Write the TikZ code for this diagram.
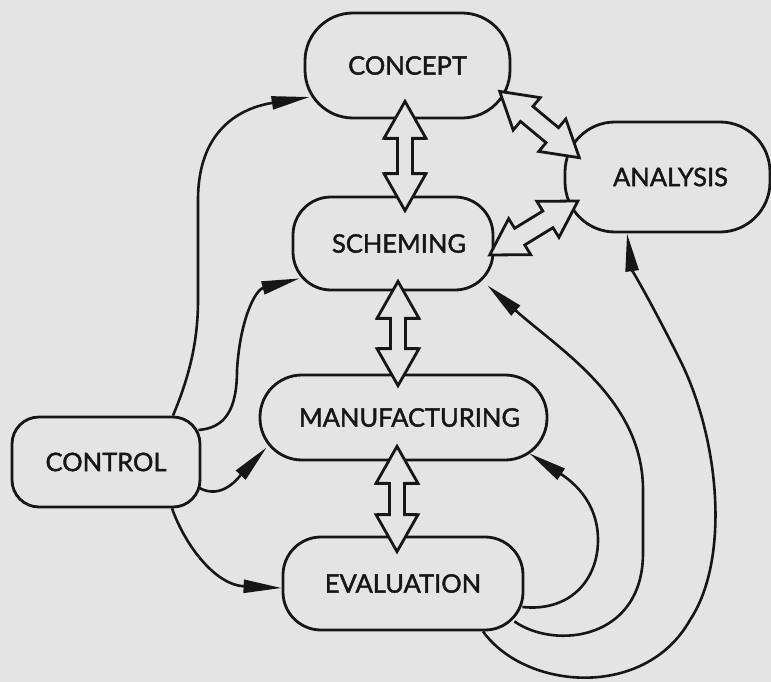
\documentclass[tikz,border=0pt]{standalone}
\usepackage{fontspec}
\setmainfont{Lato}
\newfontfamily\stagefont{Lato}[FakeBold=1.6]
\usetikzlibrary{arrows.meta,calc}
\definecolor{paper}{RGB}{228,228,228}
\definecolor{ink}{RGB}{22,22,22}

% hollow double-headed arrow between two points:
% #1 start, #2 end, #3 head side, #4 head angle, #5 shaft side, #6 shaft angle
\newcommand\twoway[6]{%
  \draw[exchange] (#1) -- ($(#1)!#3pt!#4:(#2)$) -- ($(#1)!#5pt!#6:(#2)$)
    -- ($(#2)!#5pt!-#6:(#1)$) -- ($(#2)!#3pt!-#4:(#1)$) -- (#2)
    -- ($(#2)!#3pt!#4:(#1)$) -- ($(#2)!#5pt!#6:(#1)$)
    -- ($(#1)!#5pt!-#6:(#2)$) -- ($(#1)!#3pt!-#4:(#2)$) -- cycle;}

\tikzset{
  stage/.style={draw=ink, fill=paper, line width=2.8pt, rounded corners=#1,
    inner sep=0pt, font=\stagefont\fontsize{25.5}{26}\selectfont, text=ink},
  stage/.default=35pt,
  link/.style={draw=ink, line width=2.6pt, -{Triangle[length=38pt,width=13pt]}},
  exchange/.style={draw=ink, fill=paper, line width=2.8pt, line join=miter},
}

\begin{document}
\begin{tikzpicture}[x=1pt,y=-1pt]
\fill[paper] (0,0) rectangle (771,682);
\useasboundingbox (0,0) rectangle (771,682);

% stages
\node[stage=48pt, minimum width=205pt, minimum height=105pt] (concept) at (407.5,65.5) {CONCEPT};
\node[stage=38pt, minimum width=200pt, minimum height=93pt] (scheming) at (393,243.5) {\hspace*{12pt}SCHEMING};
\node[stage=42pt, minimum width=287pt, minimum height=85pt] (manuf) at (403.5,417.5) {\hspace*{12pt}MANUFACTURING};
\node[stage=27pt, minimum width=188pt, minimum height=90pt] (control) at (106,462) {CONTROL};
\node[stage=38pt, minimum width=240pt, minimum height=93pt] (eval) at (403,583.5) {EVALUATION};
\node[stage=50pt, minimum width=205pt, minimum height=110pt] (analysis) at (667.5,177) {\hspace*{6pt}ANALYSIS};

% control flows
\draw[link] ([xshift=67pt]control.north) .. controls (190,375) and (198,340) .. (198,300)
  -- (198,200) .. controls (198,130) and (240,108) .. ([xshift=6pt,yshift=-31.5pt]concept.west);
\draw[link] ([xshift=-3pt,yshift=32pt]control.east) .. controls (225,428) and (237,410) .. (237,370)
  .. controls (240,320) and (255,290) .. ([xshift=8pt,yshift=13pt]scheming.south west);
\draw[link] ([xshift=-2pt,yshift=-26pt]control.east) .. controls (222,500) and (238,478)
  .. ([xshift=8pt,yshift=14pt]manuf.south west);
\draw[link] ([xshift=66pt]control.south) .. controls (185,545) and (215,585)
  .. ([yshift=-4.5pt]eval.west);

% feedback from evaluation
\draw[link] ([xshift=-2pt,yshift=-23.5pt]eval.east) .. controls (570,612) and (598,580) .. (598,540)
  .. controls (598,500) and (570,480) .. ([xshift=-19pt,yshift=8pt]manuf.south east);
\draw[link] ([xshift=-10pt,yshift=10pt]eval.south east) .. controls (555,650) and (643,640) .. (643,553)
  -- (643,490) .. controls (643,400) and (560,350) .. ([xshift=-7pt,yshift=6pt]scheming.south east);
\draw[link] ([xshift=80pt]eval.south) .. controls (525,690) and (645,700) .. (690,620)
  .. controls (730,560) and (720,440) .. (680,360)
  .. controls (650,300) and (632,270) .. ([xshift=-40.5pt]analysis.south);

% two-way exchanges
\coordinate (cs1) at ([xshift=-2.5pt,yshift=18pt]concept.south);
\coordinate (cs2) at ([xshift=12pt,yshift=-15pt]scheming.north);
\twoway{cs1}{cs2}{42.5}{29.6}{37.75}{11.46}
\coordinate (sm1) at ([xshift=5pt,yshift=10pt]scheming.south);
\coordinate (sm2) at ([xshift=-5.5pt,yshift=-12pt]manuf.north);
\twoway{sm1}{sm2}{42.5}{29.6}{37.75}{11.46}
\coordinate (me1) at ([xshift=-6.5pt,yshift=15pt]manuf.south);
\coordinate (me2) at ([xshift=-6pt,yshift=-16pt]eval.north);
\twoway{me1}{me2}{42.5}{29.6}{37.75}{11.46}
\coordinate (ca1) at ([xshift=-11.7pt,yshift=28pt]concept.south east);
\coordinate (ca2) at ([xshift=15.7pt,yshift=19.3pt]analysis.west);
\twoway{ca1}{ca2}{41}{31}{36.5}{15.5}
\coordinate (sa1) at ([xshift=-4.7pt,yshift=-11.5pt]scheming.east);
\coordinate (sa2) at ([xshift=14.3pt,yshift=-24pt]analysis.west);
\twoway{sa1}{sa2}{41}{31}{36.5}{15.5}
\end{tikzpicture}
\end{document}
